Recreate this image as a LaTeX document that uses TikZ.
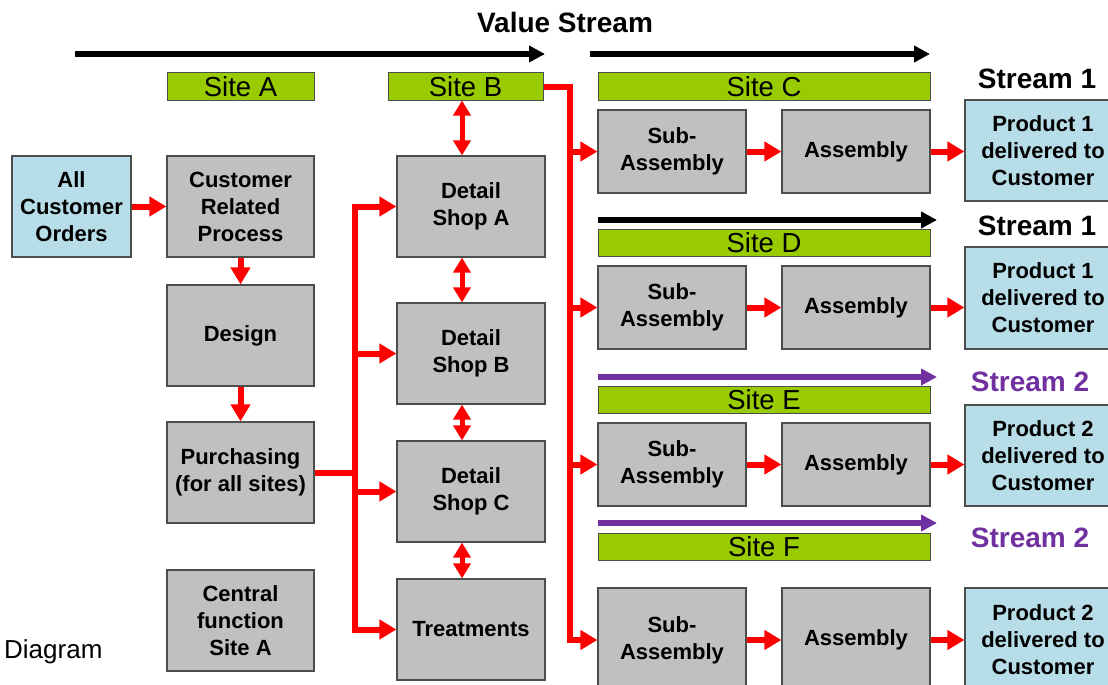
\documentclass[tikz,border=0pt]{standalone}
\usepackage{fontspec}
\setmainfont{Liberation Sans}
\usetikzlibrary{arrows.meta}
\definecolor{sitegreen}{HTML}{99CC00}
\definecolor{boxgray}{HTML}{C0C0C0}
\definecolor{boxblue}{HTML}{B7DDE8}
\definecolor{boxline}{HTML}{4D4D4D}
\definecolor{streampurple}{HTML}{7030A0}
\newcommand{\vsboxfont}{\bfseries\fontsize{22}{27}\selectfont}
\newcommand{\vssitefont}{\fontsize{27.5}{30}\selectfont}
\newcommand{\vsheadfont}{\bfseries\fontsize{28}{32}\selectfont}
\begin{document}
\begin{tikzpicture}[x=1pt,y=-1pt,
	box/.style={draw=boxline,line width=1.2pt,fill=boxgray,inner sep=0pt,
		minimum width=147pt,minimum height=101pt,align=center,font=\vsboxfont},
	subbox/.style={box,minimum width=148pt,minimum height=83pt},
	endbox/.style={box,fill=boxblue,minimum width=156pt},
	site/.style={draw=boxline,line width=1pt,fill=sitegreen,inner sep=0pt,
		minimum height=27pt,font=\vssitefont},
	streamlbl/.style={font=\vsheadfont,inner sep=0pt},
	flow/.style={draw=red,line width=6pt,-{Triangle[width=19pt,length=17pt]}},
	flowline/.style={draw=red,line width=6pt},
	both/.style={draw=red,line width=5pt,{Triangle[width=17pt,length=15pt]}-{Triangle[width=17pt,length=15pt]}},
	vsarrow/.style={line width=6pt,-{Triangle[width=16pt,length=16pt]}}]
	\useasboundingbox (0,0) rectangle (1108,685);
	\clip (0,0) rectangle (1108,685);
	\node[streamlbl] (title) at (565,22) {Value Stream};
	\coordinate (va0) at (75,54);
	\coordinate (va1) at (545,54);
	\coordinate (vb0) at (590,54);
	\coordinate (vb1) at (930,54);
	\draw[vsarrow] (va0) -- (va1);
	\draw[vsarrow] (vb0) -- (vb1);
	% sites
	\node[site,minimum width=147pt] (siteA) at (240.5,86.5) {Site A};
	\node[site,minimum width=155pt] (siteB) at (465.5,86.5) {Site B};
	\node[site,minimum width=332pt] (siteC) at (764,86.5) {Site C};
	\node[site,minimum width=332pt] (siteD) at (764,243) {Site D};
	\node[site,minimum width=332pt] (siteE) at (764,400) {Site E};
	\node[site,minimum width=332pt] (siteF) at (764,547) {Site F};
	\node[streamlbl] (strC) at (1037,79) {Stream 1};
	\node[streamlbl] (strD) at (1037,226) {Stream 1};
	\node[streamlbl,text=streampurple] (strE) at (1030,382) {Stream 2};
	\node[streamlbl,text=streampurple] (strF) at (1030,538) {Stream 2};
	\coordinate (vd0) at (598,220);
	\coordinate (vd1) at (937,220);
	\coordinate (ve0) at (598,377);
	\coordinate (ve1) at (937,377);
	\coordinate (vf0) at (598,523);
	\coordinate (vf1) at (937,523);
	\draw[vsarrow] (vd0) -- (vd1);
	\draw[vsarrow,streampurple] (ve0) -- (ve1);
	\draw[vsarrow,streampurple] (vf0) -- (vf1);
	% site A column
	\node[box,fill=boxblue,minimum width=119pt] (orders) at (71.5,206.5) {All\\Customer\\Orders};
	\node[box] (crp) at (240.5,206.5) {Customer\\Related\\Process};
	\node[box] (design) at (240.5,335.5) {Design};
	\node[box] (purch) at (240.5,472.5) {Purchasing\\(for all sites)};
	\node[box] (central) at (240.5,620.5) {Central\\function\\Site A};
	\node[anchor=west,inner sep=0pt,font=\fontsize{26}{30}\selectfont] (diag) at (4,652) {Diagram};
	% site B column
	\node[box,minimum width=148pt] (shopA) at (471,206.5) {Detail\\Shop A};
	\node[box,minimum width=148pt] (shopB) at (471,353.5) {Detail\\Shop B};
	\node[box,minimum width=148pt] (shopC) at (471,491.5) {Detail\\Shop C};
	\node[box,minimum width=148pt] (treat) at (471,629.5) {Treatments};
	% sub-assembly rows
	\node[subbox] (subC) at (672,151.5) {Sub-\\Assembly};
	\node[subbox] (asmC) at (856,151.5) {Assembly};
	\node[endbox] (prodC) at (1043,150.5) {Product 1\\delivered to\\Customer};
	\node[subbox] (subD) at (672,307.5) {Sub-\\Assembly};
	\node[subbox] (asmD) at (856,307.5) {Assembly};
	\node[endbox,minimum height=102pt] (prodD) at (1043,298) {Product 1\\delivered to\\Customer};
	\node[subbox] (subE) at (672,464.5) {Sub-\\Assembly};
	\node[subbox] (asmE) at (856,464.5) {Assembly};
	\node[endbox] (prodE) at (1043,455.5) {Product 2\\delivered to\\Customer};
	\node[subbox,minimum height=104pt] (subF) at (672,640) {Sub-\\Assembly};
	\node[subbox,minimum height=104pt] (asmF) at (856,640) {Assembly};
	\node[endbox,minimum height=104pt] (prodF) at (1043,640) {Product 2\\delivered to\\Customer};
	% red flows
	\draw[flow] (orders) -- (crp);
	\draw[flow] (crp) -- (design);
	\draw[flow] (design) -- (purch);
	\coordinate (bus) at (355,0);
	\draw[flowline] (purch.east) -- (purch.east -| bus);
	\draw[flow] (bus |- treat.west) -- (bus |- shopA.west) -- (shopA.west);
	\draw[flow] (bus |- shopA.west) -- (bus |- treat.west) -- (treat.west);
	\draw[flow] (bus |- shopB.west) -- (shopB.west);
	\draw[flow] (bus |- shopC.west) -- (shopC.west);
	\coordinate (sbus) at (570,0);
	\draw[flow] (siteB.east) -| (sbus |- subF.west) -- (subF.west);
	\draw[flow] (sbus |- subC.west) -- (subC.west);
	\draw[flow] (sbus |- subD.west) -- (subD.west);
	\draw[flow] (sbus |- subE.west) -- (subE.west);
	\coordinate (dbl) at (462,0);
	\draw[both] (dbl |- siteB.south) -- (dbl |- shopA.north);
	\draw[both] (dbl |- shopA.south) -- (dbl |- shopB.north);
	\draw[both] (dbl |- shopB.south) -- (dbl |- shopC.north);
	\draw[both] (dbl |- shopC.south) -- (dbl |- treat.north);
	\foreach \r in {C,D,E,F} {
		\draw[flow] (sub\r) -- (asm\r);
		\draw[flow] (asm\r.east) -- (asm\r.east -| prod\r.west);
	}
\end{tikzpicture}
\end{document}
